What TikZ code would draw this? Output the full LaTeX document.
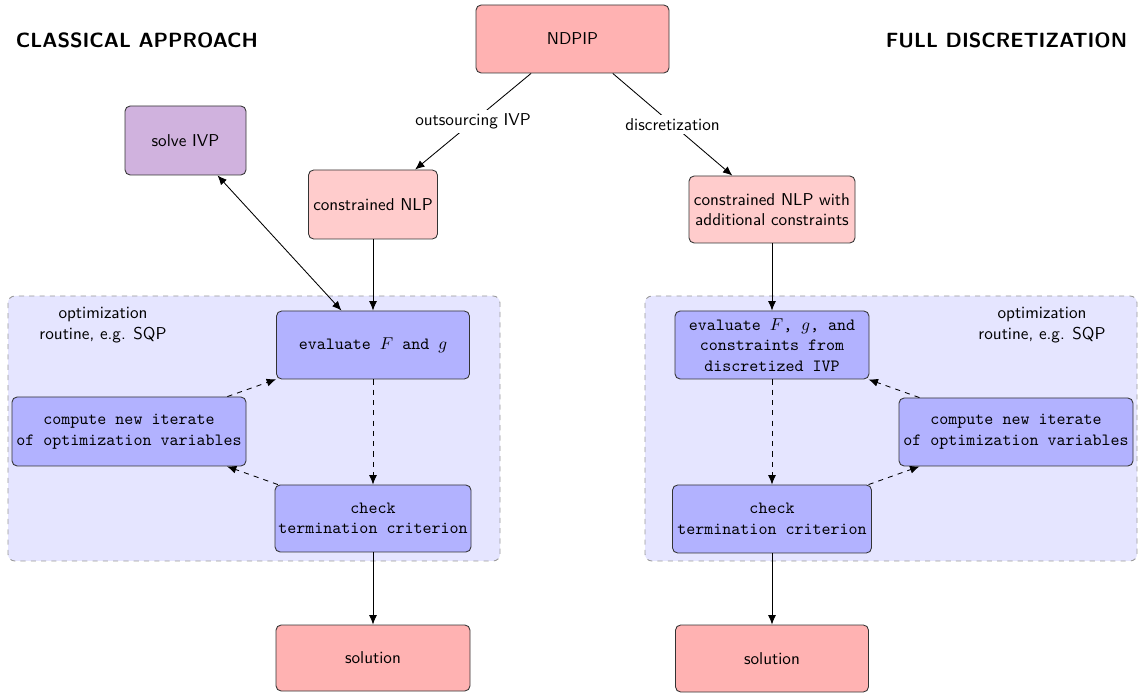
\documentclass[tikz,border=0pt]{standalone}
\usetikzlibrary{arrows.meta}
\definecolor{ivpviolet}{RGB}{208,178,222}
\begin{document}
\begin{tikzpicture}[x=0.583pt,y=-0.583pt,
  sz/.style 2 args={minimum width=#1*0.583pt, minimum height=#2*0.583pt},
  base/.style={draw=black!80, rounded corners=3pt, line width=0.5pt, inner sep=2pt, align=center},
  probbox/.style={base, fill=red!30, font=\sffamily},
  nlpbox/.style={base, fill=red!20, font=\sffamily},
  ivpbox/.style={base, fill=ivpviolet, font=\sffamily},
  stepbox/.style={base, fill=blue!30, font=\ttfamily},
  region/.style={draw=black!40, dashed, fill=blue!10, rounded corners=4pt, line width=0.5pt},
  title/.style={font=\large\sffamily\bfseries},
  note/.style={font=\sffamily, align=center},
  tip/.style={},
  conn/.style={-{Latex[length=5.5pt,width=4.6pt]}, line width=0.5pt, draw=black},
  dconn/.style={conn, dashed},
  elabel/.style={fill=white, font=\sffamily, inner sep=2pt}]
\useasboundingbox (0,0) rectangle (1141,693);

% optimization loops (background)
\draw[region] (8,296) rectangle (500,561);
\draw[region] (645,296) rectangle (1137,561);
\node[note] (routL) at (103,325) {optimization\\routine, e.g. SQP};
\node[note] (routR) at (1042,325) {optimization\\routine, e.g. SQP};

% headings
\node[title] (hL) at (137,40) {CLASSICAL APPROACH};
\node[title] (hR) at (1006.5,40) {FULL DISCRETIZATION};

% problem and reformulations
\node[probbox, sz={193}{68}] (ndpip) at (572.5,39) {NDPIP};
\node[ivpbox, sz={121}{69}] (ivp) at (185.5,140.5) {solve IVP};
\node[nlpbox, sz={129}{69}] (nlpL) at (373,204.5) {constrained NLP};
\node[nlpbox, sz={166}{67}] (nlpR) at (772,209.5) {constrained NLP with\\additional constraints};

% classical approach loop
\node[stepbox, sz={193}{68}] (evalL) at (373,345) {evaluate $F$ and $g$};
\node[stepbox, sz={234}{69}] (compL) at (129,431.5) {compute new iterate\\of optimization variables};
\node[stepbox, sz={196}{67}] (checkL) at (373,518.5) {check\\termination criterion};
\node[probbox, sz={194}{66}] (solL) at (373,658) {solution};

% full discretization loop
\node[stepbox, sz={194}{68}] (evalR) at (772,345) {evaluate $F$, $g$, and\\constraints from\\discretized IVP};
\node[stepbox, sz={234}{68}] (compR) at (1016,432) {compute new iterate\\of optimization variables};
\node[stepbox, sz={199}{68}] (checkR) at (772,519) {check\\termination criterion};
\node[probbox, sz={193}{67}] (solR) at (772,658.5) {solution};

% connectors
\draw[conn] (ndpip) -- node[elabel] {outsourcing IVP} (nlpL);
\draw[conn] (ndpip) -- node[elabel] {discretization} (nlpR);
\draw[conn, {Latex[length=5.5pt,width=4.6pt]}-{Latex[length=5.5pt,width=4.6pt]}] (ivp) -- (evalL);

\draw[conn] (nlpL) -- (evalL);
\draw[dconn] (evalL) -- (checkL);
\draw[dconn] (checkL) -- (compL);
\draw[dconn] (compL) -- (evalL);
\draw[conn] (checkL) -- (solL);

\draw[conn] (nlpR) -- (evalR);
\draw[dconn] (evalR) -- (checkR);
\draw[dconn] (checkR) -- (compR);
\draw[dconn] (compR) -- (evalR);
\draw[conn] (checkR) -- (solR);
\end{tikzpicture}
\end{document}
